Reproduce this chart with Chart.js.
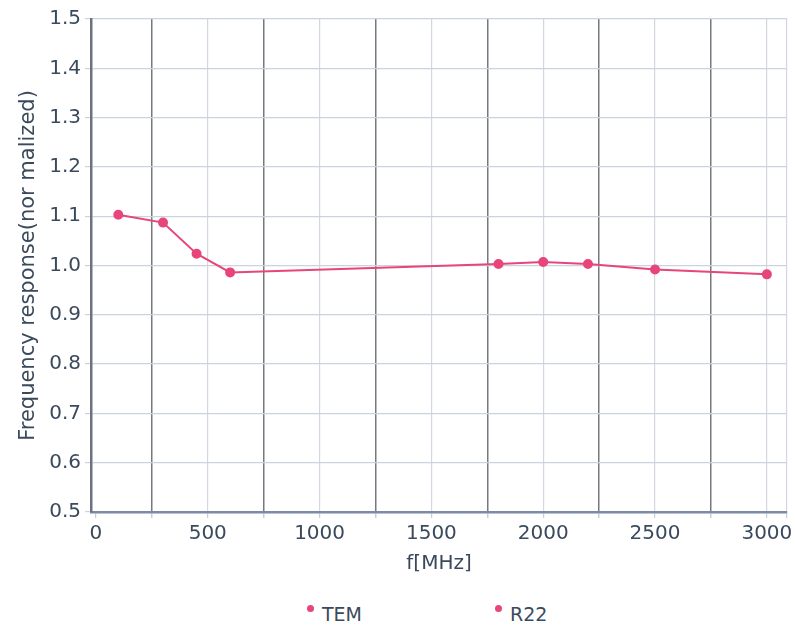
<!DOCTYPE html>
<html>
<head>
<meta charset="utf-8">
<script src="https://cdn.jsdelivr.net/npm/chart.js@4"></script>
<style>
  body { margin: 0; background: #fff; font-family: "DejaVu Sans", sans-serif; }
  #wrap { position: relative; width: 795px; height: 626px; }
  #legend { position: absolute; top: 603px; left: 0; width: 795px; height: 23px; }
  .item { position: absolute; top: 0; font-size: 19px; color: #3a4a5c; }
  .dot { display: inline-block; width: 7px; height: 7px; border-radius: 50%; background: #e8457a; vertical-align: 9px; margin-right: 8px; }
</style>
</head>
<body>
<div id="wrap">
  <canvas id="chart" width="795" height="576"></canvas>
  <div id="legend"></div>
</div>
<script>
// Data
const freqs = [100, 300, 450, 600, 1800, 2000, 2200, 2500, 3000];
const temValues = [1.103, 1.087, 1.024, 0.986, 1.003, 1.007, 1.003, 0.992, 0.982];
const r22Values = [];
const seriesNames = ['TEM', 'R22'];
const xTicks = [0, 500, 1000, 1500, 2000, 2500, 3000];
const yTicks = [0.5, 0.6, 0.7, 0.8, 0.9, 1.0, 1.1, 1.2, 1.3, 1.4, 1.5];

const pink = '#e8457a';
const textColor = '#3a4a5c';

const ctx = document.getElementById('chart').getContext('2d');

let chart = new Chart(ctx, {
    type: 'line',
    data: {
        datasets: [{
            label: seriesNames[0],
            data: freqs.map((f, i) => ({ x: f, y: temValues[i] })),
            borderColor: pink,
            backgroundColor: pink,
            borderWidth: 2,
            pointRadius: 4,
            pointHoverRadius: 4,
            tension: 0
        }, {
            label: seriesNames[1],
            data: r22Values,
            borderColor: pink,
            backgroundColor: pink
        }]
    },
    options: {
        responsive: false,
        animation: false,
        layout: { padding: { top: 19, right: 8, left: 16, bottom: 0 } },
        plugins: {
            legend: { display: false },
            tooltip: { enabled: false }
        },
        scales: {
            x: {
                type: 'linear',
                min: -22,
                max: 3090,
                afterBuildTicks: (axis) => {
                    // grid every 250, labels only on the 500s
                    const ticks = [];
                    for (let v = 0; v <= xTicks[xTicks.length - 1]; v += 250) ticks.push({ value: v });
                    ticks.push({ value: 3090 });
                    axis.ticks = ticks;
                },
                ticks: {
                    color: textColor,
                    font: { family: 'DejaVu Sans', size: 20 },
                    padding: 4,
                    maxRotation: 0,
                    autoSkip: false,
                    callback: (v) => xTicks.includes(v) ? String(v) : ''
                },
                grid: {
                    color: (c) => {
                        const v = c.tick ? c.tick.value : 0;
                        if (v === 0) return 'rgba(0,0,0,0)';
                        if (v % 500 === 250) return '#74797f';
                        return '#d3d8e0';
                    },
                    lineWidth: (c) => (c.tick && c.tick.value % 500 === 250) ? 1.5 : 1.2,
                    tickLength: 6,
                    tickColor: '#c8ced8'
                },
                border: { color: '#7d8aa6', width: 2.5 },
                title: {
                    display: true,
                    text: 'f[MHz]',
                    color: textColor,
                    font: { family: 'DejaVu Sans', size: 20 },
                    padding: { top: 2, bottom: 0 }
                }
            },
            y: {
                min: 0.5,
                max: 1.5,
                afterBuildTicks: (axis) => {
                    axis.ticks = yTicks.map(v => ({ value: v }));
                },
                ticks: {
                    color: textColor,
                    font: { family: 'DejaVu Sans', size: 20 },
                    padding: 4,
                    callback: (v) => v.toFixed(1)
                },
                grid: {
                    color: '#cbd2e2',
                    lineWidth: 1.2,
                    tickLength: 6
                },
                border: { color: '#6c7380', width: 2.5 },
                title: {
                    display: true,
                    text: 'Frequency response(nor malized)',
                    color: textColor,
                    font: { family: 'DejaVu Sans', size: 21 },
                    padding: { top: 0, bottom: 4 }
                }
            }
        }
    }
});

// Legend below the chart
const legendEl = document.getElementById('legend');
const legendX = [307, 495];
seriesNames.forEach((name, i) => {
    const span = document.createElement('span');
    span.className = 'item';
    span.style.left = legendX[i] + 'px';
    span.innerHTML = '<span class="dot"></span>' + name;
    legendEl.appendChild(span);
});
</script>
</body>
</html>
